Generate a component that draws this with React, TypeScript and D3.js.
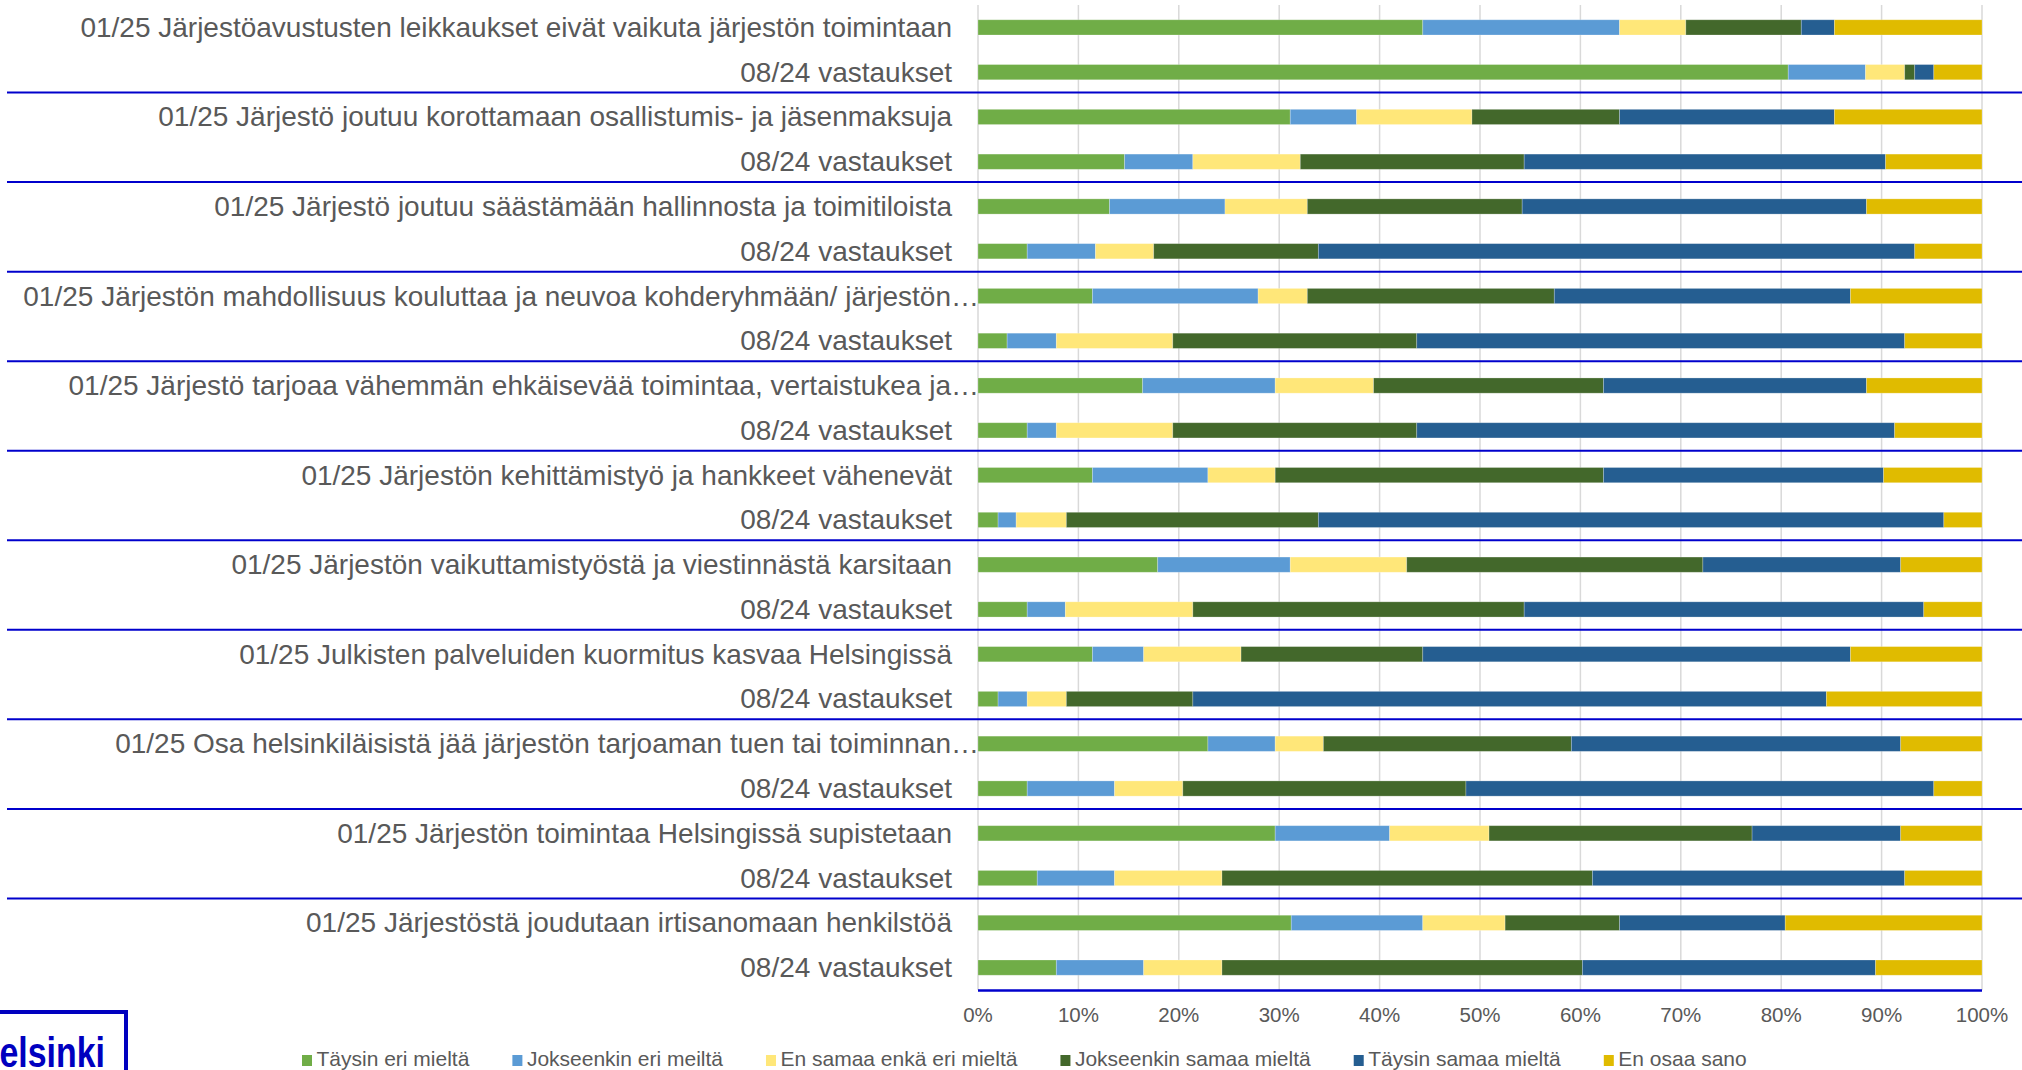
import React, { useEffect, useRef } from "react";
import * as d3 from "d3";

const categories = [
  "01/25 Järjestöavustusten leikkaukset eivät vaikuta järjestön toimintaan",
  "08/24 vastaukset",
  "01/25 Järjestö joutuu korottamaan osallistumis- ja jäsenmaksuja",
  "08/24 vastaukset",
  "01/25 Järjestö joutuu säästämään hallinnosta ja toimitiloista",
  "08/24 vastaukset",
  "01/25 Järjestön mahdollisuus kouluttaa ja neuvoa kohderyhmään/ järjestön…",
  "08/24 vastaukset",
  "01/25 Järjestö tarjoaa vähemmän ehkäisevää toimintaa, vertaistukea ja…",
  "08/24 vastaukset",
  "01/25 Järjestön kehittämistyö ja hankkeet vähenevät",
  "08/24 vastaukset",
  "01/25 Järjestön vaikuttamistyöstä ja viestinnästä karsitaan",
  "08/24 vastaukset",
  "01/25 Julkisten palveluiden kuormitus kasvaa Helsingissä",
  "08/24 vastaukset",
  "01/25 Osa helsinkiläisistä jää järjestön tarjoaman tuen tai toiminnan…",
  "08/24 vastaukset",
  "01/25 Järjestön toimintaa Helsingissä supistetaan",
  "08/24 vastaukset",
  "01/25 Järjestöstä joudutaan irtisanomaan henkilstöä",
  "08/24 vastaukset",
];

const seriesNames = [
  "Täysin eri mieltä",
  "Jokseenkin eri meiltä",
  "En samaa enkä eri mieltä",
  "Jokseenkin samaa mieltä",
  "Täysin samaa mieltä",
  "En osaa sano",
];

const seriesColors = ["#70AD47", "#5B9BD5", "#FFE779", "#43682B", "#255E91", "#E0BB00"];

const taysinEri = [44.3, 80.7, 31.1, 14.6, 13.1, 4.9, 11.4, 2.9, 16.4, 4.9, 11.4, 2.0, 17.9, 4.9, 11.4, 2.0, 22.9, 4.9, 29.6, 5.9, 31.2, 7.8];
const jokseenkinEri = [19.6, 7.7, 6.6, 6.8, 11.5, 6.8, 16.5, 4.9, 13.2, 2.9, 11.5, 1.8, 13.2, 3.8, 5.1, 2.9, 6.7, 8.7, 11.4, 7.7, 13.1, 8.7];
const enSamaa = [6.6, 3.9, 11.5, 10.7, 8.2, 5.8, 4.9, 11.6, 9.8, 11.6, 6.7, 5.0, 11.6, 12.7, 9.7, 3.9, 4.8, 6.8, 9.9, 10.7, 8.2, 7.8];
const jokseenkinSamaa = [11.5, 1.0, 14.7, 22.3, 21.4, 16.4, 24.6, 24.3, 22.9, 24.3, 32.7, 25.1, 29.5, 33.0, 18.1, 12.6, 24.7, 28.2, 26.2, 36.9, 11.4, 35.9];
const taysinSamaa = [3.3, 1.9, 21.4, 36.0, 34.3, 59.4, 29.5, 48.6, 26.2, 47.6, 27.9, 62.3, 19.7, 39.8, 42.6, 63.1, 32.8, 46.6, 14.8, 31.1, 16.5, 29.2];
const enOsaa = [14.7, 4.8, 14.7, 9.6, 11.5, 6.7, 13.1, 7.7, 11.5, 8.7, 9.8, 3.8, 8.1, 5.8, 13.1, 15.5, 8.1, 4.8, 8.1, 7.7, 19.6, 10.6];

const tickValues = [0, 0.1, 0.2, 0.3, 0.4, 0.5, 0.6, 0.7, 0.8, 0.9, 1.0];

const W = 2022;
const H = 1070;
const FONT = "'Liberation Sans', Arial, sans-serif";

export default function App() {
  const ref = useRef<SVGSVGElement | null>(null);

  useEffect(() => {
    const svg = d3.select(ref.current);
    svg.selectAll("*").remove();

    const left = 978;
    const right = 1982;
    const top = 5;
    const bottom = 990;

    const seriesValues = [taysinEri, jokseenkinEri, enSamaa, jokseenkinSamaa, taysinSamaa, enOsaa];
    const rows = categories.map((c, i) => {
      const r: any = { idx: i, label: c };
      seriesNames.forEach((s, k) => (r[s] = seriesValues[k][i]));
      return r;
    });

    const stack = d3.stack<any>().keys(seriesNames).offset(d3.stackOffsetExpand);
    const stacked = stack(rows);

    const x = d3.scaleLinear().domain([0, 1]).range([left, right]);
    const y = d3
      .scaleBand<number>()
      .domain(rows.map((r) => r.idx))
      .range([top, bottom])
      .paddingInner(0.66)
      .paddingOuter(0.33);
    const step = y.step();
    const center = (i: number) => y(i)! + y.bandwidth() / 2;

    // gridlines
    svg
      .append("g")
      .selectAll("line")
      .data(tickValues)
      .join("line")
      .attr("x1", (d) => x(d))
      .attr("x2", (d) => x(d))
      .attr("y1", top)
      .attr("y2", bottom)
      .attr("stroke", "#D9D9D9")
      .attr("stroke-width", 1.5);

    // bars
    const g = svg.append("g");
    stacked.forEach((layer, k) => {
      g.append("g")
        .attr("fill", seriesColors[k])
        .selectAll("rect")
        .data(layer)
        .join("rect")
        .attr("x", (d) => x(d[0]))
        .attr("width", (d) => Math.max(0, x(d[1]) - x(d[0])))
        .attr("y", (d: any) => y(d.data.idx)!)
        .attr("height", y.bandwidth())
        .attr("stroke", "#ffffff")
        .attr("stroke-opacity", 0.3)
        .attr("stroke-width", 0.8);
    });

    // group separators (between question pairs)
    const groupStarts = rows.filter((r) => r.idx > 0 && r.idx % 2 === 0).map((r) => r.idx);
    svg
      .append("g")
      .selectAll("line")
      .data(groupStarts)
      .join("line")
      .attr("x1", 7)
      .attr("x2", W)
      .attr("y1", (d) => center(d) - step / 2 - 2)
      .attr("y2", (d) => center(d) - step / 2 - 2)
      .attr("stroke", "#0000CC")
      .attr("stroke-width", 2);

    // bottom axis line
    svg
      .append("line")
      .attr("x1", left)
      .attr("x2", right)
      .attr("y1", bottom + 0.5)
      .attr("y2", bottom + 0.5)
      .attr("stroke", "#0000CC")
      .attr("stroke-width", 2.5);

    // tick labels
    svg
      .append("g")
      .selectAll("text")
      .data(tickValues)
      .join("text")
      .attr("x", (d) => x(d))
      .attr("y", 1022)
      .attr("text-anchor", "middle")
      .attr("font-family", FONT)
      .attr("font-size", 20.5)
      .attr("fill", "#595959")
      .text((d) => d3.format(".0%")(d));

    // category labels
    svg
      .append("g")
      .selectAll("text")
      .data(rows)
      .join("text")
      .attr("x", (d) => (d.label.endsWith("…") ? 979 : 952))
      .attr("y", (d) => center(d.idx) + 9.5)
      .attr("text-anchor", "end")
      .attr("font-family", FONT)
      .attr("font-size", 28)
      .attr("fill", "#595959")
      .text((d) => d.label);

    // legend
    const lg = svg.append("g");
    let lx = 302;
    seriesNames.forEach((s, k) => {
      lg.append("rect")
        .attr("x", lx)
        .attr("y", 1055)
        .attr("width", 10)
        .attr("height", 11)
        .attr("fill", seriesColors[k]);
      const t = lg
        .append("text")
        .attr("x", lx + 14.5)
        .attr("y", 1066)
        .attr("font-family", FONT)
        .attr("font-size", 21)
        .attr("fill", "#595959")
        .text(s);
      const w = (t.node() as SVGTextElement).getComputedTextLength();
      lx = lx + 14.5 + w + 43;
    });

    // Helsinki logo (cut at the left/bottom edge as in the source)
    svg
      .append("rect")
      .attr("x", -20)
      .attr("y", 1012)
      .attr("width", 146)
      .attr("height", 80)
      .attr("fill", "none")
      .attr("stroke", "#0000BF")
      .attr("stroke-width", 4);
    svg
      .append("text")
      .attr("x", -25)
      .attr("y", 1067)
      .attr("font-family", FONT)
      .attr("font-weight", "bold")
      .attr("font-size", 42)
      .attr("fill", "#0000BF")
      .attr("textLength", 130)
      .attr("lengthAdjust", "spacingAndGlyphs")
      .text("Helsinki");
  }, []);

  return (
    <svg
      ref={ref}
      width={W}
      height={H}
      style={{ position: "absolute", left: 0, top: 0, display: "block", background: "#fff" }}
    />
  );
}
